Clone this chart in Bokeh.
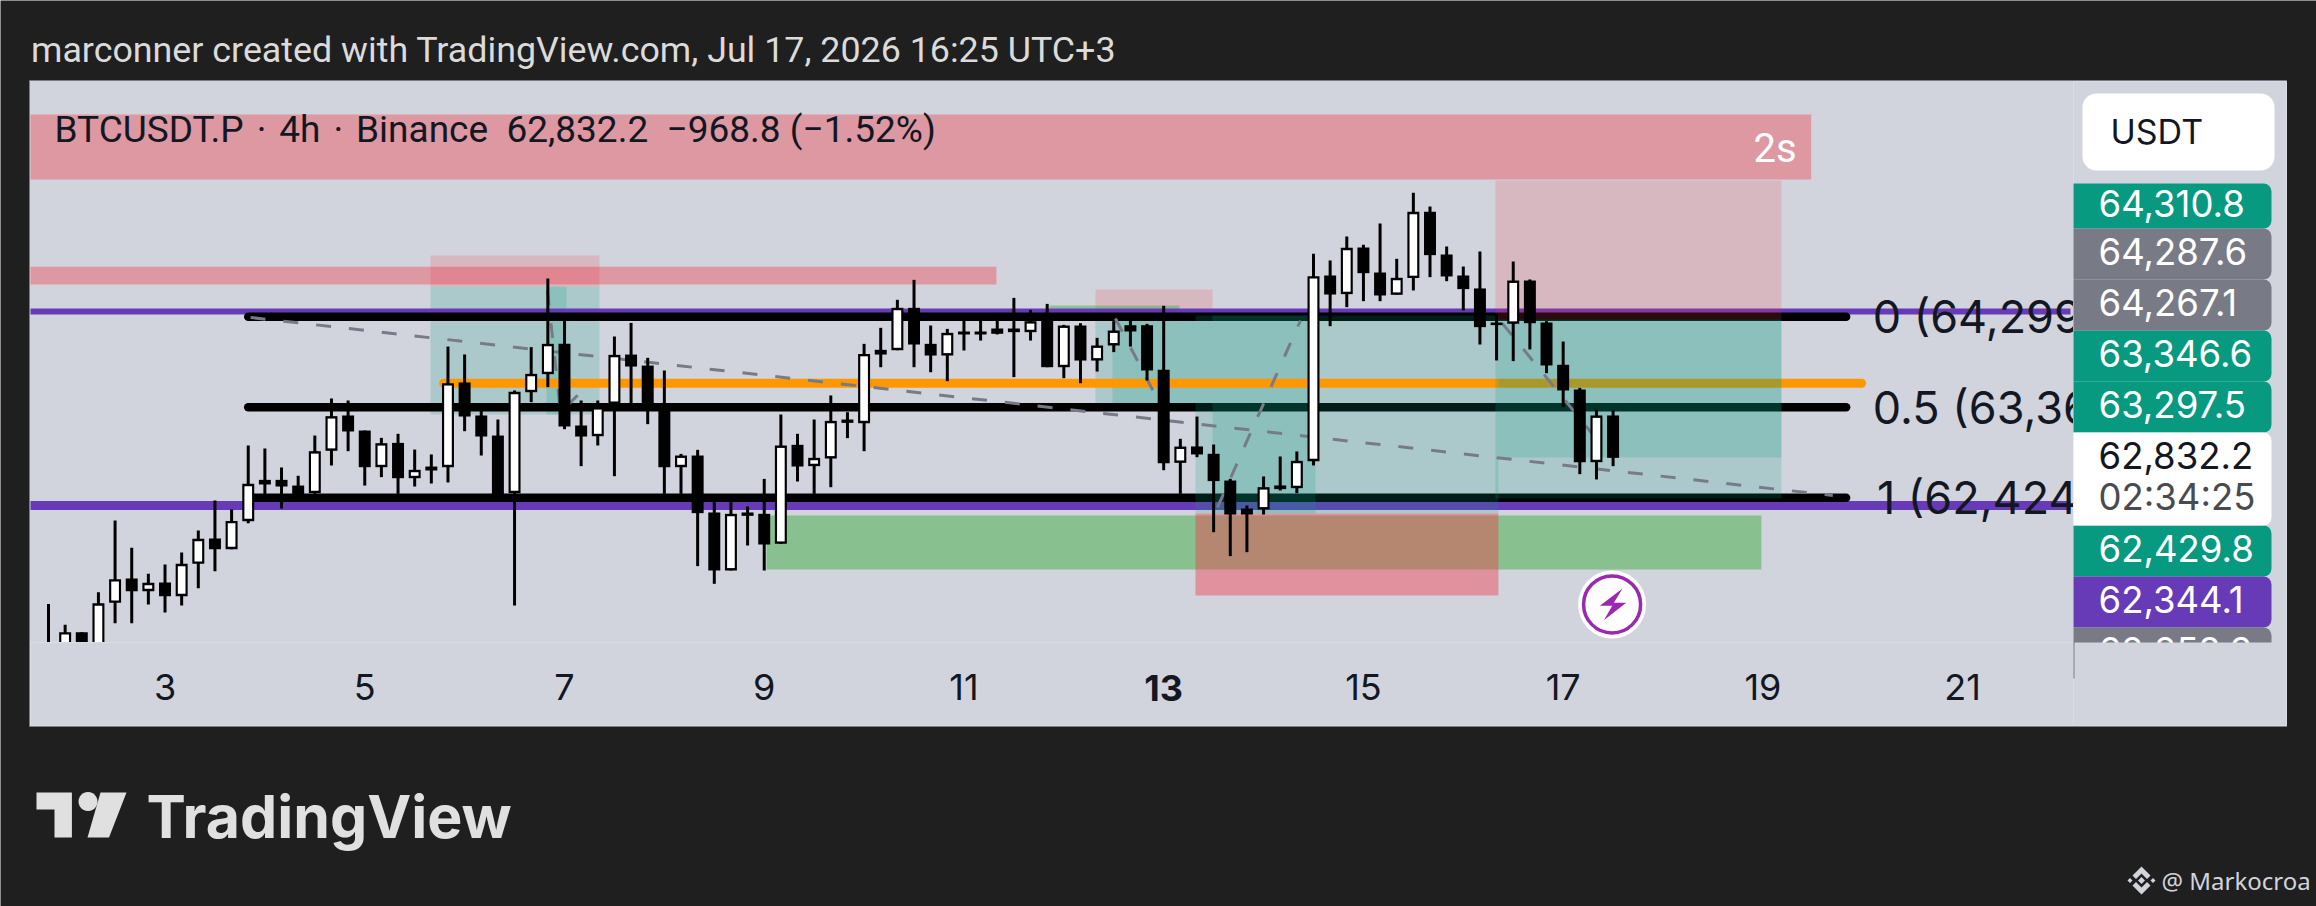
from math import cos, sin, pi
from bokeh.embed import file_html
from bokeh.resources import INLINE
from bokeh.core.properties import value
from bokeh.models import BoxAnnotation, ColumnDataSource, FixedTicker, Label, PolyAnnotation, Range1d
from bokeh.plotting import figure

# ---------- data ----------
highs = [61325,61108,61032,61446,62189,61906,61636,61733,61857,62085,62396,62303,62966,62935,62738,62652,63069,63453,63432,63121,63045,63087,62924,62873,63991,63909,63328,63235,63536,63985,64696,64330,
         63432,63432,64095,64236,63874,63743,62879,62921,62379,62379,62334,62620,63287,63087,63235,63484,63311,64019,64185,64475,64682,64209,64174,64302,64278,64288,64495,64371,64433,64216,64233,64081,64254,64261,64226,64413,63035,
         63266,62976,62621,62344,62645,62852,62904,64952,64883,65131,65045,65266,64900,65584,65442,65028,64820,64976,64330,64872,64686,64254,64043,63563,63336,63329]
body_tops = [60877,61032,61032,61332,61581,61588,61543,61547,61740,61999,62002,62185,62569,62610,62610,62551,62907,63270,63277,63121,62990,62993,62714,62748,63612,63619,63277,63069,63522,63708,64019,64019,
             63173,63363,63905,63908,63794,63397,62862,62862,62272,62258,62272,62258,62966,62973,62838,63221,63235,63915,63957,64392,64392,64019,64133,64147,64147,64178,64178,64254,64295,64209,64209,64002,64157,64212,64212,63750,62955,
             62956,62880,62603,62313,62534,62552,62807,64720,64727,65014,65017,64758,64703,65387,65387,64945,64727,64593,64240,64675,64675,64240,63802,63546,63277,63277]
body_bottoms = [60738,60842,60808,60877,61336,61457,61457,61405,61405,61740,61892,61892,62182,62562,62541,62448,62472,62911,63111,62741,62741,62627,62627,62707,62741,63266,63059,62448,62472,63518,63705,63163,
                63059,63062,63397,63784,63397,62741,62741,62265,61671,61671,62237,61940,61947,62748,62752,62831,63200,63197,63908,63953,64012,63898,63898,64116,64116,64123,64140,64140,63777,63777,63846,63846,64002,64147,63743,62783,62786,
                62873,62597,62251,62251,62303,62514,62524,62804,64530,64534,64751,64520,64527,64700,64938,64717,64586,64192,64213,64227,64233,63795,63536,62793,62793,62838]
lows = [60669,60773,60780,60877,61125,61125,61319,61236,61308,61488,61664,61892,62161,62448,62313,62431,62465,62759,62907,62551,62638,62465,62541,62572,62583,63114,62862,62448,61308,63415,63570,63135,
        62752,62966,62648,63404,63187,62465,62465,61716,61533,61671,61930,61671,61947,62593,62465,62534,63042,62907,63777,63953,63777,63725,63632,63950,64053,64116,63674,64053,63777,63663,63611,63732,63933,63991,63639,62710,62465,
        62845,62068,61820,61861,62251,62500,62472,62759,64202,64399,64461,64461,64527,64572,64710,64668,64365,64012,63847,63840,63961,63715,63363,62669,62614,62752]
rising = [0,1,0,1,1,0,1,0,1,1,0,1,1,0,0,0,1,1,0,0,1,0,1,0,1,0,0,0,1,1,1,0,
          0,1,1,0,0,0,1,0,0,1,0,0,1,0,1,1,0,1,0,1,0,0,1,0,0,0,0,1,0,1,0,1,1,0,0,0,1,
          0,0,0,0,1,0,1,1,0,1,0,0,1,1,0,0,0,0,0,1,0,0,0,0,1,0]

tick_bars = [7,19,31,43,55,67,79,91,103,115]
tick_days = ["3","5","7","9","11","13","15","17","19","21"]

fib_levels = [64299.0, 63361.5, 62424.0]
fib_labels = ["0 (64,299.0)", "0.5 (63,361.5)", "1 (62,424.0)"]
purple_levels = [64354.0, 62344.1]
orange_level = 63611.0

# zones: left bar, right bar, top price, bottom price
red_zones = [(-1.081,105.9,66395,65722),(-1.081,56.95,64818,64634)]
green_zone = (43.14,102.91,62241,61681)
teal_left = [(22.95,31.12,64613,63287),(29.92,33.10,64613,63287)]
pink_left = [(22.95,33.10,64934,64613)]
pink_mid = [(62.90,69.93,64582,64333)]
teal_mid = [(62.90,69.93,64333,63401),(63.92,68.91,64333,63401)]
green_mid = [(60.14,67.95,64416,64333)]
teal_main = [(68.91,87.11,64312,62261),(69.93,76.12,64312,62261)]
pink_stop = [(68.91,87.11,62261,61412)]
pink_right = [(86.93,104.11,65711,64271)]
teal_right = [(87.11,104.11,64271,62841),(86.93,104.11,64271,62417)]

dash_lines = [([12.14,107.2],[64292,62448]),
              ([29.98,30.76,32.08],[64572,63308,63536]),
              ([64.10,66.51],[64282,63484]),
              ([70.23,75.22],[62324,64261]),
              ([87.35,93.42],[64230,62945])]

price_tags = [("64,310.8","#089981","#ffffff",183,228),
              ("64,287.6","#787B86","#ffffff",228,279),
              ("64,267.1","#787B86","#ffffff",279,330),
              ("63,346.6","#089981","#ffffff",330,381),
              ("63,297.5","#089981","#ffffff",381,432),
              ("62,429.8","#089981","#ffffff",525,576),
              ("62,344.1","#673AB7","#ffffff",576,627),
              ("62,258.3","#787B86","#ffffff",627,678)]

event_bar, event_price = 93.94, 61319

# ---------- layout (page pixels) ----------
W, H = 2316, 906
PL, PR, PT, PB = 30, 2286, 81, 725
FR, FB = 2073, 642
BG, PANEL = "#1F1F1F", "#D1D4DC"
UI = "Roboto"
BOTTOM_PRICE = 60925

p = figure(width=W, height=H, output_backend="svg", toolbar_location=None, title=None,
           x_range=Range1d(-2.884, 136.26), y_range=Range1d(58190, 67576),
           min_border=0, background_fill_color=BG, border_fill_color=BG)
p.extra_x_ranges["px"] = Range1d(0, W)
p.extra_y_ranges["px"] = Range1d(H, 0)
p.grid.visible = False
p.yaxis.visible = False
p.outline_line_color = None

def box(l, r, t, b, fill, line=None, level="annotation", radius=0, alpha=1.0, lw=1):
    b_ = BoxAnnotation(left=l, right=r, top=t, bottom=b,
                       left_units="canvas", right_units="canvas", top_units="canvas", bottom_units="canvas",
                       fill_color=fill, fill_alpha=alpha, line_color=line, line_width=lw, level=level,
                       border_radius=radius, editable=False)
    p.add_layout(b_)
    return b_

def cover(l, r, t, b, fill, line=None):
    p.quad(left=[l], right=[r], top=[t], bottom=[b], fill_color=fill, line_color=line, x_range_name="px", y_range_name="px")

def label(x, y, text, size, color="#131722", font=UI, align="left", style="normal"):
    l = Label(x=x, y=y, x_units="canvas", y_units="canvas", text=text, text_font=font,
              text_font_size=f"{size}px", text_color=color, text_align=align, text_baseline="middle",
              text_font_style=style)
    p.add_layout(l)
    return l

def poly(xs, ys, color):
    p.add_layout(PolyAnnotation(xs=list(xs), ys=list(ys), xs_units="canvas", ys_units="canvas",
                                fill_color=color, fill_alpha=1.0, line_color=None, editable=False))

# chart panel
cover(PL-1, PR, PT-1, PB+1, PANEL, "#787B86")

def zones(z, color, alpha, line=None):
    p.quad(left=[a[0] for a in z], right=[a[1] for a in z], top=[a[2] for a in z], bottom=[a[3] for a in z],
           fill_color=color, fill_alpha=alpha, line_color=line, line_alpha=0.5 if line else 1.0)

zones(red_zones, "#F23645", 0.38)
zones([green_zone], "#4CAF50", 0.54)
zones(teal_left, "#089981", 0.19)
zones(pink_left, "#F23645", 0.18)
zones(pink_mid, "#F23645", 0.18)
zones(teal_mid, "#089981", 0.19)
zones(green_mid, "#4CAF50", 0.5)

for lv, lw in zip(purple_levels, [6, 9]):
    p.segment(x0=[-1.081], x1=[121.48], y0=[lv], y1=[lv], line_color="#673AB7", line_width=lw)
for lv in fib_levels:
    p.line(x=[12.0, 108.0], y=[lv, lv], line_color="#000000", line_width=8.5, line_cap="round")

zones(teal_main, "#089981", 0.19)
p.line(x=[23.73, 108.93], y=[orange_level, orange_level], line_color="#FF9800", line_width=9, line_cap="round")
zones(pink_stop, "#F23645", 0.42)
zones(pink_right, "#F23645", 0.18)
zones(teal_right, "#089981", 0.19)

for xs, ys in dash_lines:
    p.line(x=xs, y=ys, line_color="#787B86", line_width=3, line_dash="15 18")

# candles
bars = list(range(len(highs)))
inset = 25
src = ColumnDataSource(dict(x=bars, hi=highs, lo=lows, t=body_tops, b=body_bottoms))
p.segment(x0="x", x1="x", y0="lo", y1="hi", source=src, line_color="#000000", line_width=3)
p.vbar(x="x", width=0.72, top="t", bottom="b", source=src, fill_color="#000000", line_color=None)
ups = [i for i in bars if rising[i]]
p.vbar(x=ups, width=0.46, top=[body_tops[i]-inset for i in ups], bottom=[body_bottoms[i]+inset for i in ups],
       fill_color="#FFFFFF", line_color=None)

# fib labels
p.text(x=[109.6, 109.6, 109.85], y=fib_levels, text=fib_labels, text_font=value("Inter"), text_font_size=value("45px"),
       text_color="#131722", text_baseline="middle", text_align="left")

# event icon
p.scatter(x=[event_bar], y=[event_price], size=68, marker="circle", fill_color="#FFFFFF", line_color=None)
p.scatter(x=[event_bar], y=[event_price], size=57, marker="circle", fill_color="#FFFFFF", line_color="#9C27B0", line_width=3.5)

# right price column and bottom time column hide what runs past the pane
cover(PL, FR, FB, PB, PANEL, "#DADDE3")
cover(FR, PR, PT, PB, PANEL, "#DADDE3")

# time axis
ax = p.xaxis[0]
ax.fixed_location = BOTTOM_PRICE
ax.ticker = FixedTicker(ticks=tick_bars)
ax.major_label_overrides = {b: (" " if d == "13" else d) for b, d in zip(tick_bars, tick_days)}
ax.axis_line_color = None
ax.major_tick_line_color = None
ax.minor_tick_line_color = None
ax.major_label_text_font = "Inter"
ax.major_label_text_font_size = "36px"
ax.major_label_text_color = "#131722"
ax.major_label_standoff = 17

p.add_layout(Label(x=tick_bars[tick_days.index("13")], y=687, x_units="data", y_units="canvas", text="13",
                   text_font="Inter", text_font_size="36px", text_font_style="bold", text_color="#131722",
                   text_align="center", text_baseline="middle"))

# bolt of the event icon
ex, ey = 1611.7, 604
poly([ex+v for v in (10.3,-12.3,0,-8.3,14,1.7)], [ey+v for v in (-16,1.3,1.3,15.7,-1.7,-1.7)], "#9C27B0")

# texts on top
label(30.5, 49, "marconner created with TradingView.com, Jul 17, 2026 16:25 UTC+3", 35.8, "#DBDBDB")
label(54, 129, "BTCUSDT.P\u00a0\u200a\u00b7\u200a\u00a04h\u00a0\u200a\u00b7\u200a\u00a0Binance\u00a0\u00a062,832.2\u00a0\u00a0\u2212968.8 (\u22121.52%)", 37)
label(1753, 148, "2s", 40, "#FFFFFF")

# currency button and price tags
box(2082, 2274, 93, 170, "#FFFFFF", radius=14)
label(2110, 131, "USDT", 34, "#131722", font="Inter")
for text, fill, col, t, b in price_tags:
    box(FR, 2271, t, b, fill, radius=(0, 8, 8, 0))
    label(2098, (t + b) / 2 + (-3), text, 36.5, col, font="Inter")
box(FR, 2271, 432, 525, "#FFFFFF", radius=(0, 8, 8, 0))
label(2098, 455, "62,832.2", 36.5, "#131722", font="Inter")
label(2098, 496, "02:34:25", 36.5, "#4A4A4F", font="Inter")
box(FR+1, 2275, FB, 690, PANEL)

# logo
LOGO = "#E0E0E0"
poly([36,71.4,71.4,54,54,36], [792,792,837,837,809,809], LOGO)
poly([87.5+9.5*cos(a*pi/12) for a in range(24)], [801+9.5*sin(a*pi/12) for a in range(24)], LOGO)
poly([100,126,108.5,87], [792,792,837,837], LOGO)
label(146, 816, "TradingView", 59, LOGO, font="Inter", style="bold")

# footer
FOOT = "#D1D4DC"
ox, oy = 2141, 880
poly([ox,ox+9,ox+5.5,ox,ox-5.5,ox-9], [oy-14,oy-5,oy-1.5,oy-7,oy-1.5,oy-5], FOOT)
poly([ox,ox+9,ox+5.5,ox,ox-5.5,ox-9], [oy+14,oy+5,oy+1.5,oy+7,oy+1.5,oy+5], FOOT)
for dx, r in ((-11.5,2.5),(0,3.5),(11.5,2.5)):
    poly([ox+dx+r,ox+dx,ox+dx-r,ox+dx], [oy,oy+r,oy,oy-r], FOOT)
label(2161, 880, "@ Markocroa", 24, FOOT, font="Noto Sans")

html = file_html(p, INLINE)
html = html.replace("<body>", f'<body style="background:{BG}">', 1)
open("out.html", "w").write(html)
